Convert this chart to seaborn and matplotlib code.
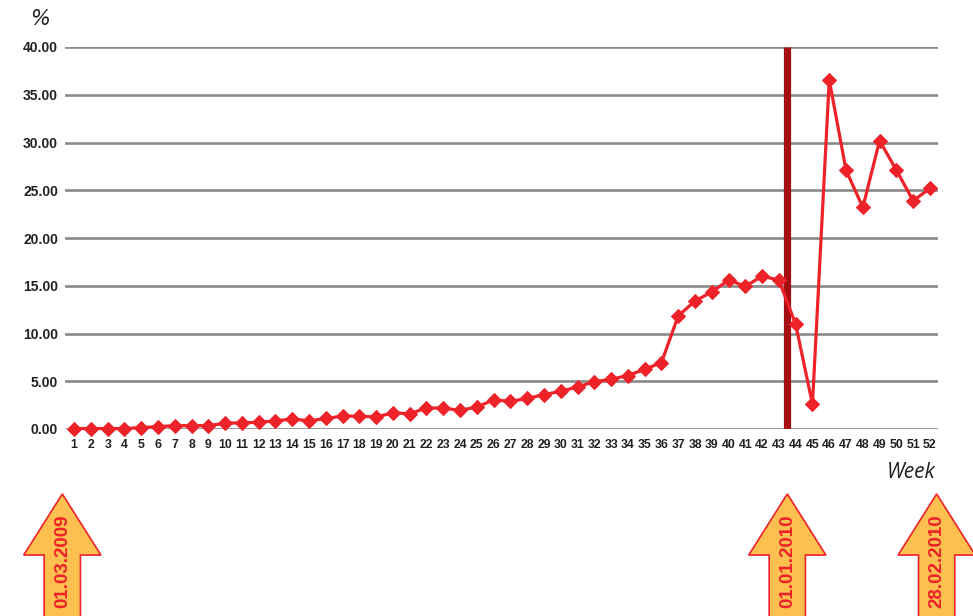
import numpy as np
import pandas as pd
import matplotlib
matplotlib.use("Agg")
import matplotlib.pyplot as plt
from matplotlib.patches import Polygon
import seaborn as sns

weeks = list(range(1, 53))
values = [0.05, 0.05, 0.05, 0.05, 0.15, 0.25, 0.35, 0.35, 0.35, 0.6,
          0.65, 0.7, 0.85, 1.05, 0.85, 1.1, 1.35, 1.35, 1.25, 1.7,
          1.6, 2.2, 2.2, 1.95, 2.3, 3.05, 2.9, 3.2, 3.6, 3.95,
          4.4, 4.95, 5.2, 5.6, 6.25, 6.95, 11.85, 13.4, 14.35, 15.6,
          14.95, 16.0, 15.6, 10.95, 2.6, 36.55, 27.1, 23.2, 30.2, 27.1,
          23.9, 25.2]
y_ticks = [0, 5, 10, 15, 20, 25, 30, 35, 40]
marker_week = 43.5
arrow_weeks = [0.3, 43.5, 52.4]
arrow_labels = ["01.03.2009", "01.01.2010", "28.02.2010"]

df = pd.DataFrame({"week": weeks, "pct": values})

sns.set_style("white")
plt.rcParams["font.family"] = ["Liberation Sans", "DejaVu Sans"]

RED = "#ee2229"
fig = plt.figure(figsize=(9.73, 6.16), dpi=100)
ax = fig.add_axes([65 / 973, (616 - 429) / 616, (938 - 65) / 973, 382 / 616])

ax.set_ylim(0, 40)
ax.set_xlim(0.46, 52.48)
ax.set_yticks(y_ticks)
ax.set_yticklabels([f"{v:.2f}" for v in y_ticks], fontsize=10, fontweight="bold",
                   color="#231f20")
ax.set_xticks(weeks)
ax.set_xticklabels([str(w) for w in weeks], fontsize=8.8, fontweight="bold",
                   color="#231f20")
ax.tick_params(axis="x", length=0, pad=7)
ax.tick_params(axis="y", length=0, pad=5)
ax.grid(axis="y", color="#8a8a8a", lw=1.9)
ax.grid(axis="x", visible=False)
for s in ax.spines.values():
    s.set_visible(False)
ax.set_axisbelow(True)

ax.vlines(marker_week, 0, 40, color="#a50e12", lw=5.2, zorder=2)

sns.lineplot(data=df, x="week", y="pct", ax=ax, color=RED, lw=2.3,
             marker="D", markersize=7, markeredgecolor=RED, zorder=3,
             clip_on=False)
ax.set_xlabel("")
ax.set_ylabel("")

fig.text(30 / 973, 1 - 19 / 616, "%", fontsize=15, style="italic",
         family="DejaVu Sans", va="center", ha="left", color="#231f20")
fig.text(935 / 973, 1 - 472 / 616, "Week", fontsize=15, style="italic",
         family="Open Sans", va="center", ha="right", color="#231f20")

# orange arrows under the axis
trans = ax.get_xaxis_transform()
head_w, shaft_w = 2.3, 1.08
y_tip, y_base, y_end = -0.17, -0.33, -0.52
for xw, lab in zip(arrow_weeks, arrow_labels):
    pts = [(xw, y_tip), (xw + head_w, y_base), (xw + shaft_w, y_base),
           (xw + shaft_w, y_end), (xw - shaft_w, y_end), (xw - shaft_w, y_base),
           (xw - head_w, y_base)]
    poly = Polygon(pts, closed=True, transform=trans, clip_on=False,
                   facecolor="#fdbf4f", edgecolor=RED, lw=1.2)
    ax.add_patch(poly)
    ax.text(xw, -0.345, lab, transform=trans, rotation=90, ha="center",
            va="center", color=RED, fontsize=13.5, fontweight="bold")

fig.savefig("out.png", dpi=100)
